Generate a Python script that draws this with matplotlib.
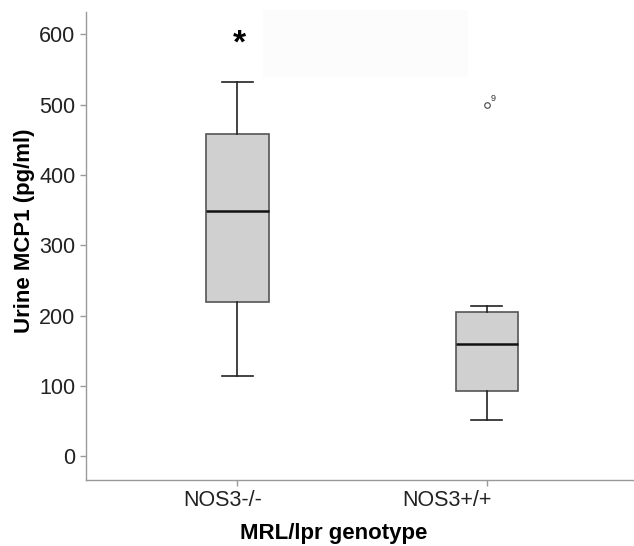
import matplotlib
matplotlib.use("Agg")
import matplotlib.pyplot as plt
import matplotlib.transforms as mtransforms
from matplotlib.patches import Rectangle

plt.rcParams["font.family"] = ["Liberation Sans", "DejaVu Sans"]

# data (pg/ml)
groups = ["NOS3-/-", "NOS3+/+"]
whisker_low = [114, 51]
q1 = [219, 92]
medians = [349, 159]
q3 = [459, 205]
whisker_high = [532, 214]
outliers = [[], [499]]
outlier_ids = [[], ["9"]]
yticks = [0, 100, 200, 300, 400, 500, 600]

stats = []
for i, g in enumerate(groups):
    stats.append({
        "label": g,
        "whislo": whisker_low[i],
        "q1": q1[i],
        "med": medians[i],
        "q3": q3[i],
        "whishi": whisker_high[i],
        "fliers": outliers[i],
    })

fig = plt.figure(figsize=(6.34, 5.46), dpi=100)
ax = fig.add_axes([86 / 634, (546 - 480) / 546, 548 / 634, 468 / 546])

# faint panel behind the top area
fig.patches.append(Rectangle((263 / 634, 1 - 77 / 546), 205 / 634, 67 / 546,
                             transform=fig.transFigure, facecolor="#fcfcfc",
                             edgecolor="none", zorder=0))

gray = "#9a9a9a"
ax.bxp(stats, positions=[1, 2], widths=0.25, patch_artist=True,
       boxprops=dict(facecolor="#d0d0d0", edgecolor="#555555", linewidth=1.2),
       medianprops=dict(color="#111111", linewidth=1.8),
       whiskerprops=dict(color="#222222", linewidth=1.2),
       capprops=dict(color="#222222", linewidth=1.2),
       capwidths=0.125,
       flierprops=dict(marker="o", markersize=4, markerfacecolor="white",
                       markeredgecolor="#444444", markeredgewidth=0.8))

for i, ids in enumerate(outlier_ids):
    for v, t in zip(outliers[i], ids):
        ax.annotate(t, (i + 1, v), xytext=(3, 3), textcoords="offset points",
                    fontsize=6.5, color="#333333")

ax.text(1.01, 586, "*", ha="center", va="center", fontsize=24, fontweight="bold")

ax.set_xlim(0.393, 2.59)
ax.set_ylim(-34, 632)
ax.set_yticks(yticks)
ax.set_xticks([1, 2])
ax.set_xticklabels([])
label_pos = [0.94, 1.84]
shift = mtransforms.ScaledTranslation(0, -10 / 100, fig.dpi_scale_trans)
for x, g in zip(label_pos, groups):
    ax.text(x, 0, g, transform=ax.get_xaxis_transform() + shift, ha="center",
            va="top", fontsize=15.5, color="#222222")

for s in ["top", "right"]:
    ax.spines[s].set_visible(False)
for s in ["left", "bottom"]:
    ax.spines[s].set_color(gray)
    ax.spines[s].set_linewidth(1.0)
ax.tick_params(colors=gray, length=4, width=1, labelsize=15.5, labelcolor="#222222")

ax.set_ylabel("Urine MCP1 (pg/ml)", fontsize=16, fontweight="bold", labelpad=6)
ax.yaxis.set_label_coords(-0.093, (480 - 231) / 468)
fig.text(334 / 634, 1 - 534 / 546, "MRL/lpr genotype", ha="center",
         va="center", fontsize=16, fontweight="bold")

fig.savefig("out.png", dpi=100)
